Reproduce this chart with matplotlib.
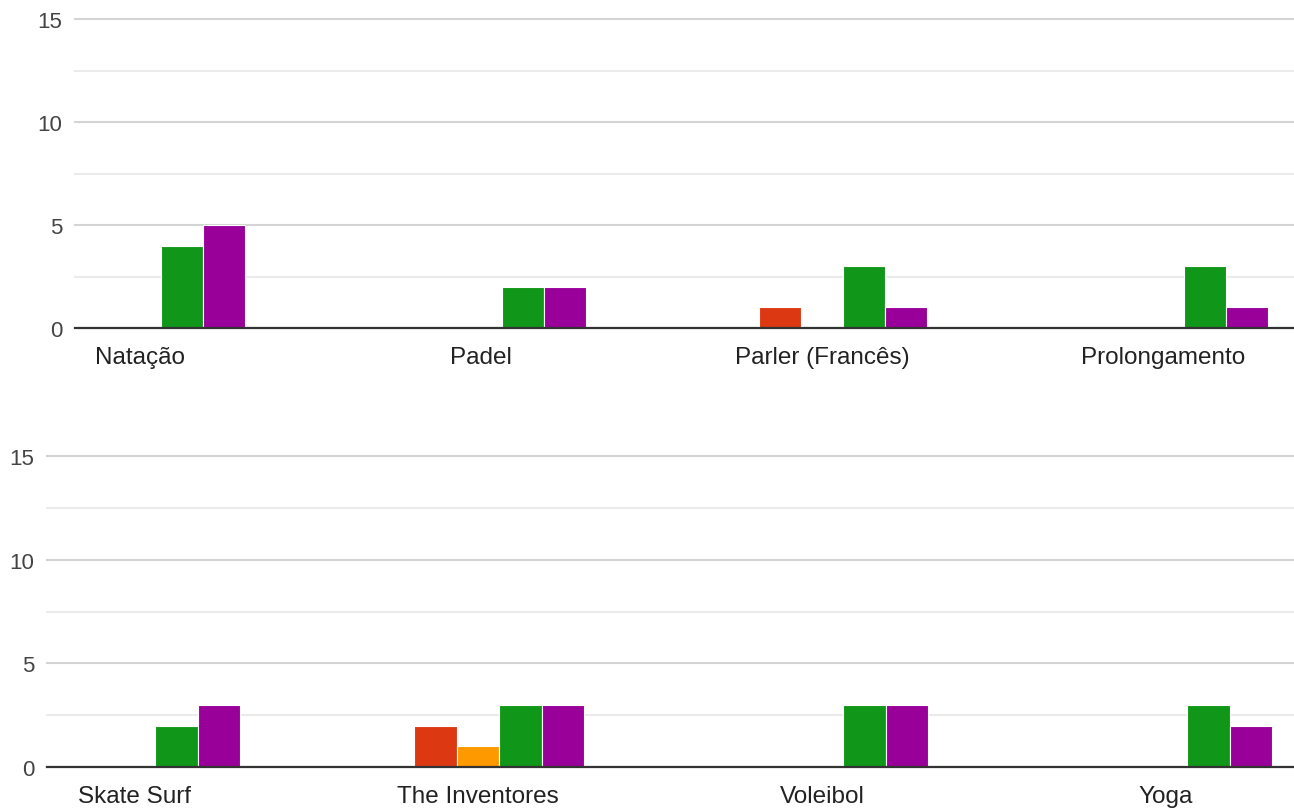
import numpy as np
import matplotlib
matplotlib.use('Agg')
import matplotlib.pyplot as plt

plt.rcParams['font.family'] = ['Liberation Sans', 'DejaVu Sans']

# categories for each panel
cats_top = ['Natação', 'Padel', 'Parler (Francês)', 'Prolongamento']
cats_bottom = ['Skate Surf', 'The Inventores', 'Voleibol', 'Yoga']

# five series (blue, red, orange, green, purple), values per category
blue_top = [0, 0, 0, 0]
red_top = [0, 0, 1, 0]
orange_top = [0, 0, 0, 0]
green_top = [4, 2, 3, 3]
purple_top = [5, 2, 1, 1]

blue_bottom = [0, 0, 0, 0]
red_bottom = [0, 2, 0, 0]
orange_bottom = [0, 1, 0, 0]
green_bottom = [2, 3, 3, 3]
purple_bottom = [3, 3, 3, 2]

y_ticks = [0, 5, 10, 15]

colors = ['#3366cc', '#dc3912', '#ff9900', '#109618', '#990099']

W, H = 1294, 812
fig = plt.figure(figsize=(W / 100, H / 100), dpi=100)


def panel(rect, cats, series, xlim):
    ax = fig.add_axes(rect)
    n = len(series)
    bw = 0.1236
    x = np.arange(len(cats))
    for i, (vals, c) in enumerate(zip(series, colors)):
        ax.bar(x + (i - (n - 1) / 2) * bw, vals, bw, color=c,
               edgecolor='white', linewidth=0.8, zorder=3)
    ax.set_xlim(*xlim)
    ax.set_ylim(0, 15)
    # minor and major gridlines
    for v in [2.5, 7.5, 12.5]:
        ax.axhline(v, color='#ebebeb', lw=1.5, zorder=1, clip_on=False)
    for v in [5, 10, 15]:
        ax.axhline(v, color='#d4d4d4', lw=1.5, zorder=1, clip_on=False)
    ax.axhline(0, color='#333333', lw=1.6, zorder=4, clip_on=False)
    for s in ax.spines.values():
        s.set_visible(False)
    ax.set_yticks(y_ticks)
    ax.set_yticklabels([str(t) for t in y_ticks], fontsize=16, color='#444444')
    ax.set_xticks(x)
    ax.set_xticklabels(cats, fontsize=17.5, color='#222222')
    ax.tick_params(axis='y', length=0, pad=9)
    ax.tick_params(axis='x', length=0, pad=13)
    ax.set_facecolor('none')
    return ax


panel([75 / W, (H - 329) / H, (W - 75) / W, 309 / H], cats_top,
      [blue_top, red_top, orange_top, green_top, purple_top],
      (-65 / 341, (W - 140) / 341))
panel([47 / W, (H - 768) / H, (W - 47) / W, 311 / H], cats_bottom,
      [blue_bottom, red_bottom, orange_bottom, green_bottom, purple_bottom],
      (-87 / 344, (W - 134) / 344))

fig.savefig('out.png', dpi=100, facecolor='white')
